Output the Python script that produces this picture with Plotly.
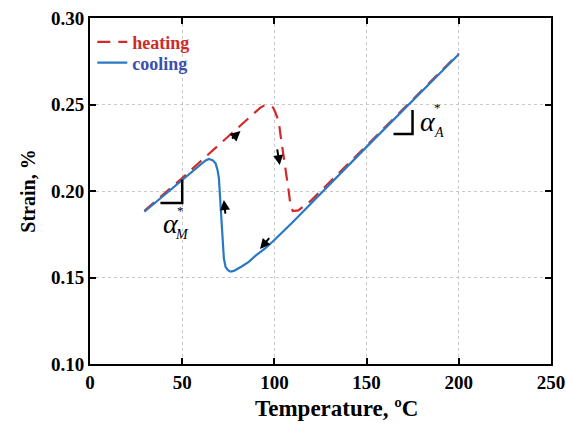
import plotly.graph_objects as go

# Cooling curve (blue, solid)
cool_T = [29.5, 40, 50, 56, 60, 62.5, 64.4, 66.5, 68.1, 69.2, 69.9, 70.5, 71.1, 71.6, 72.0, 72.6, 73.5, 74.8, 76.2,
          78, 82, 86.1, 90, 95, 100, 105, 110, 150, 200]
cool_S = [0.188, 0.1975, 0.2065, 0.212, 0.2155, 0.2175, 0.2185, 0.2178, 0.216, 0.212, 0.2073, 0.198, 0.188, 0.178,
          0.1688, 0.161, 0.1562, 0.1542, 0.1534, 0.1538, 0.1562, 0.159, 0.1628, 0.1668, 0.1717, 0.1768, 0.1821, 0.2255, 0.279]

# Heating curve (red, dashed)
heat_T = [29.5, 40, 50, 60, 70, 76.2, 81.6, 87, 92.4, 94.5, 96.5, 98.2, 99.3, 100.5, 102.4, 103.3, 105, 106.9, 107.8,
          108.7, 110, 113, 120, 150, 200]
heat_S = [0.1885, 0.198, 0.2075, 0.2172, 0.2268, 0.2327, 0.238, 0.2435, 0.2482, 0.2494, 0.2497, 0.2492, 0.2482, 0.2455,
          0.240, 0.2324, 0.220, 0.2083, 0.1996, 0.1919, 0.1884, 0.1888, 0.1946, 0.2262, 0.2795]

x_ticks = [0, 50, 100, 150, 200, 250]
y_ticks = [0.10, 0.15, 0.20, 0.25, 0.30]

# slope triangles
triM_T = [38.2, 50, 50]
triM_S = [0.193, 0.193, 0.2065]
triA_T = [164.6, 174.9, 174.9]
triA_S = [0.233, 0.233, 0.2468]

# direction arrows: (tail T, tail S, head T, head S)
arrows = [
    (76.2, 0.2295, 81.6, 0.2347),
    (101.4, 0.2249, 102.9, 0.2150),
    (73.5, 0.1861, 72.6, 0.1948),
    (97.9, 0.1736, 92.2, 0.1665),
]

RED = "#d02a2a"
BLUE = "#2a78c2"
FONT = "Liberation Serif"

fig = go.Figure()
fig.add_trace(go.Scatter(x=heat_T, y=heat_S, mode="lines", legend="legend",
                         name="<span style='color:#d02a2a'><b>heating</b></span>",
                         line=dict(color=RED, width=2.2, dash="13px,8px")))
fig.add_trace(go.Scatter(x=cool_T, y=cool_S, mode="lines", legend="legend2",
                         name="<span style='color:#3a4fb0'><b>cooling</b></span>",
                         line=dict(color=BLUE, width=2.2)))

for tx, ty in [(triM_T, triM_S), (triA_T, triA_S)]:
    fig.add_trace(go.Scatter(x=tx, y=ty, mode="lines", showlegend=False,
                             line=dict(color="black", width=2.5), hoverinfo="skip"))

for (t0, s0, t1, s1) in arrows:
    fig.add_annotation(x=t1, y=s1, ax=t0, ay=s0, axref="x", ayref="y", xref="x", yref="y",
                       text="", showarrow=True, arrowhead=2, arrowsize=1, arrowwidth=2, arrowcolor="black")

# alpha labels
def alpha_label(T, S, sub):
    fig.add_annotation(x=T, y=S, xref="x", yref="y", text="<i>α</i>", showarrow=False,
                       font=dict(family=FONT, size=28, color="black"))
    fig.add_annotation(x=T + 5.0, y=S + 0.0080, xref="x", yref="y", text="*", showarrow=False,
                       font=dict(family=FONT, size=13, color="black"))
    fig.add_annotation(x=T + 6.0, y=S - 0.0062, xref="x", yref="y", text="<i>" + sub + "</i>", showarrow=False,
                       font=dict(family=FONT, size=14, color="black"))

alpha_label(44.0, 0.1810, "M")
alpha_label(183.5, 0.2400, "A")

# x-axis title as annotation (reference title sits right of plot centre)
fig.add_annotation(x=0.535, y=-0.13, xref="paper", yref="paper", text="<b>Temperature, ºC</b>",
                   showarrow=False, yanchor="middle", font=dict(family=FONT, size=23, color="black"))

axis_common = dict(showline=True, linecolor="black", linewidth=2, mirror="ticks",
                   ticks="inside", ticklen=6, tickwidth=2, tickcolor="black",
                   showgrid=True, gridcolor="#c8c8c8", griddash="dot", gridwidth=1,
                   zeroline=False, automargin=False,
                   tickfont=dict(family=FONT, size=19, color="black"))

fig.update_xaxes(range=[0, 250], tickvals=x_ticks, ticktext=[f"<b>{v}</b>" for v in x_ticks], **axis_common)
fig.update_yaxes(range=[0.10, 0.30], tickvals=y_ticks, ticktext=[f"<b>{v:.2f}</b>" for v in y_ticks],
                 title=dict(text="<b>Strain, %</b>", font=dict(family=FONT, size=20, color="black"), standoff=10),
                 **axis_common)

leg_common = dict(xanchor="left", yanchor="middle", bgcolor="rgba(0,0,0,0)",
                  font=dict(family=FONT, size=18), itemwidth=30)
fig.update_layout(width=566, height=428, margin=dict(l=90, r=15, t=18, b=64),
                  plot_bgcolor="white", paper_bgcolor="white",
                  legend=dict(x=0.005, y=0.930, **leg_common),
                  legend2=dict(x=0.005, y=0.870, **leg_common),
                  showlegend=True)

fig.write_html("out.html", config={"displayModeBar": False},
               post_script="document.body.style.margin='0';")
